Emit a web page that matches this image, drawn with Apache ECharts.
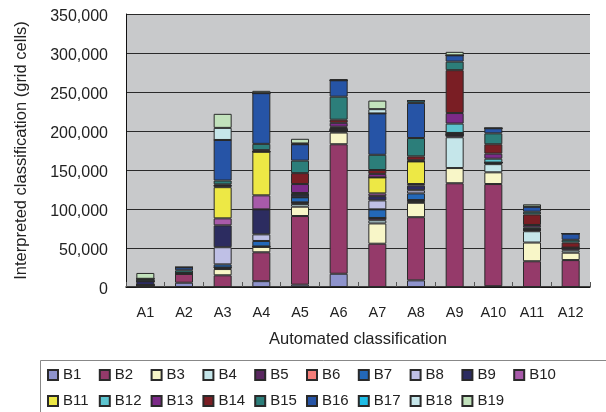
<!DOCTYPE html>
<html>
<head>
<meta charset="utf-8">
<script src="https://cdn.jsdelivr.net/npm/echarts@6/dist/echarts.min.js"></script>
<style>
  html, body { margin: 0; padding: 0; background: #ffffff; }
  #chart { width: 606px; height: 412px; }
</style>
</head>
<body>
<div id="chart"></div>
<script>
// Automated classes (x axis)
const categories = ['A1', 'A2', 'A3', 'A4', 'A5', 'A6', 'A7', 'A8', 'A9', 'A10', 'A11', 'A12'];

// Interpreted classes: grid cells per automated class
const B1  = [0, 5500, 0, 7500, 3000, 17000, 0, 8500, 0, 1000, 0, 0];
const B2  = [2500, 11500, 15000, 37000, 88000, 166000, 55500, 81000, 133000, 131000, 33000, 34500];
const B3  = [0, 0, 8000, 7000, 12000, 15000, 26000, 18500, 19500, 15000, 24000, 9500];
const B4  = [0, 0, 1000, 0, 3500, 1500, 4000, 1000, 39500, 10500, 14500, 3000];
const B5  = [0, 0, 1000, 500, 2000, 1500, 3000, 2500, 3000, 2000, 2000, 2500];
const B6  = [0, 0, 0, 0, 0, 0, 0, 0, 0, 0, 0, 0];
const B7  = [0, 0, 4000, 7000, 6500, 0, 11000, 8500, 0, 0, 0, 0];
const B8  = [0, 0, 22000, 8500, 0, 0, 11500, 4000, 0, 0, 0, 0];
const B9  = [5000, 0, 28000, 32000, 3500, 1500, 5500, 6000, 2500, 0, 1000, 0];
const B10 = [0, 0, 9000, 18000, 0, 0, 3500, 2000, 0, 0, 0, 0];
const B11 = [0, 1000, 40000, 56000, 0, 1500, 20500, 29000, 0, 0, 0, 0];
const B12 = [0, 0, 2000, 0, 2000, 1500, 0, 0, 12000, 5000, 2000, 0];
const B13 = [0, 0, 0, 0, 11500, 5000, 4500, 1500, 13500, 6500, 3000, 1000];
const B14 = [0, 0, 1500, 2000, 14000, 4000, 5000, 5000, 55000, 12000, 13500, 6500];
const B15 = [3000, 3400, 5000, 8000, 16000, 29500, 19500, 23500, 11000, 14000, 3500, 3500];
const B16 = [0, 3800, 52000, 65000, 21000, 21000, 53000, 45000, 8000, 6500, 6500, 8000];
const B17 = [0, 0, 0, 0, 0, 0, 0, 3000, 0, 0, 0, 0];
const B18 = [0, 0, 15500, 0, 1000, 0, 5500, 0, 0, 0, 0, 0];
const B19 = [7500, 0, 18000, 3000, 6000, 1500, 11000, 0, 4500, 0, 3000, 0];

// Y axis tick labels
const yTicks = [0, 50000, 100000, 150000, 200000, 250000, 300000, 350000];

const seriesNames = ['B1','B2','B3','B4','B5','B6','B7','B8','B9','B10',
                     'B11','B12','B13','B14','B15','B16','B17','B18','B19'];
const seriesData = [B1,B2,B3,B4,B5,B6,B7,B8,B9,B10,B11,B12,B13,B14,B15,B16,B17,B18,B19];
const seriesColors = [
  '#8e93cc', '#953a6a', '#f8f6c8', '#c5e6ea', '#5a2860',
  '#f47e7a', '#2368b8', '#bfc0e6', '#2c2c60', '#a85aaa',
  '#ede845', '#5cc4cf', '#7c2a88', '#7a1e24', '#2c7e7a',
  '#2654a6', '#1ebde6', '#c6e6ea', '#c2e2bc'
];

const fontFamily = '"Liberation Sans", Arial, sans-serif';

const chart = echarts.init(document.getElementById('chart'), null, { renderer: 'canvas' });

const series = seriesNames.map((name, i) => ({
  name: name,
  type: 'bar',
  stack: 'total',
  barWidth: 18,
  data: seriesData[i],
  itemStyle: { color: seriesColors[i], borderColor: '#2a2a2a', borderWidth: 1 },
  emphasis: { disabled: true },
  animation: false
}));

const legendCommon = {
  left: 47,
  padding: 0,
  orient: 'horizontal',
  itemWidth: 10,
  itemHeight: 10,
  itemGap: 5.8,
  icon: 'rect',
  textStyle: { fontFamily: fontFamily, fontSize: 15, lineHeight: 20, color: '#222', width: 30 },
  selectedMode: false
};

chart.setOption({
  animation: false,
  backgroundColor: '#ffffff',
  graphic: [{
    type: 'rect',
    shape: { x: 40.5, y: 360.5, width: 580, height: 60 },
    style: { fill: '#ffffff', stroke: '#888888', lineWidth: 1 },
    z: -1
  }],
  grid: {
    left: 126,
    right: 16,
    top: 14,
    bottom: 125,
    show: true,
    backgroundColor: '#c8c9cb',
    borderWidth: 0
  },
  legend: [
    Object.assign({}, legendCommon, { top: 365, data: seriesNames.slice(0, 10) }),
    Object.assign({}, legendCommon, { top: 391, data: seriesNames.slice(10) })
  ],
  xAxis: {
    type: 'category',
    data: categories,
    name: 'Automated classification',
    nameLocation: 'middle',
    nameGap: 44,
    nameTextStyle: { fontFamily: fontFamily, fontSize: 16.5, color: '#222' },
    axisLine: { lineStyle: { color: '#111', width: 1.5 } },
    axisTick: { show: true, inside: true, length: 5, lineStyle: { color: '#555' } },
    axisLabel: { interval: 0, fontFamily: fontFamily, fontSize: 14.5, color: '#222', margin: 18 }
  },
  yAxis: {
    type: 'value',
    min: yTicks[0],
    max: yTicks[yTicks.length - 1],
    interval: yTicks[1] - yTicks[0],
    name: 'Interpreted classification (grid cells)',
    nameLocation: 'middle',
    nameGap: 96,
    nameTextStyle: { fontFamily: fontFamily, fontSize: 16.5, color: '#222' },
    axisLine: { show: true, lineStyle: { color: '#111', width: 1 } },
    axisTick: { show: false },
    splitLine: { show: true, lineStyle: { color: '#2a2a2a', width: 1 } },
    axisLabel: {
      color: '#222',
      margin: 18,
      formatter: v => '{t|' + v.toLocaleString('en-US') + '}',
      rich: {
        t: { fontFamily: fontFamily, fontSize: 16, color: '#222', padding: [6, 0, 0, 0] }
      }
    }
  },
  series: series
});
</script>
</body>
</html>
